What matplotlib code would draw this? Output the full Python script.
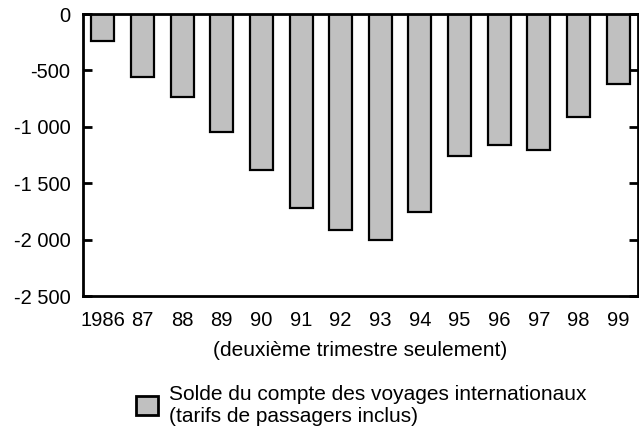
import matplotlib.pyplot as plt
from matplotlib.patches import Patch

years = ["1986", "87", "88", "89", "90", "91", "92", "93", "94", "95", "96", "97", "98", "99"]
balance = [-240, -560, -740, -1045, -1380, -1720, -1915, -2000, -1755, -1260, -1160, -1205, -910, -620]
yticks = [0, -500, -1000, -1500, -2000, -2500]
ytick_labels = ["0", "-500", "-1 000", "-1 500", "-2 000", "-2 500"]

plt.rcParams["font.family"] = ["Liberation Sans", "DejaVu Sans"]
fs = 14.5

W, H = 639, 429
fig = plt.figure(figsize=(W / 100, H / 100), dpi=100)
ax = fig.add_axes([83 / W, 1 - 296 / H, 555 / W, 282 / H])

x = range(len(years))
ax.bar(x, balance, width=0.58, color="#c0c0c0", edgecolor="black", linewidth=1.6, zorder=2)

ax.set_xlim(-0.5, len(years) - 0.5)
ax.set_ylim(-2500, 0)
ax.set_yticks(yticks)
ax.set_yticklabels(ytick_labels)
ax.set_xticks(list(x))
ax.set_xticklabels(years)

ax.tick_params(axis="y", direction="in", length=6.5, width=2, right=True, labelsize=fs, pad=9)
ax.tick_params(axis="x", length=0, labelsize=fs, pad=11)
for s in ax.spines.values():
    s.set_linewidth(2)
    s.set_zorder(3)

ax.set_xlabel("(deuxième trimestre seulement)", fontsize=15, labelpad=8)

handle = Patch(facecolor="#c0c0c0", edgecolor="black", linewidth=2)
fig.legend(handles=[handle],
           labels=["Solde du compte des voyages internationaux\n(tarifs de passagers inclus)"],
           loc="center left", bbox_to_anchor=(136 / W, 1 - 405 / H),
           frameon=False, fontsize=15, handlelength=1.05, handleheight=1.0,
           handletextpad=0.55, borderpad=0, borderaxespad=0)

fig.savefig("out.png", dpi=100)
